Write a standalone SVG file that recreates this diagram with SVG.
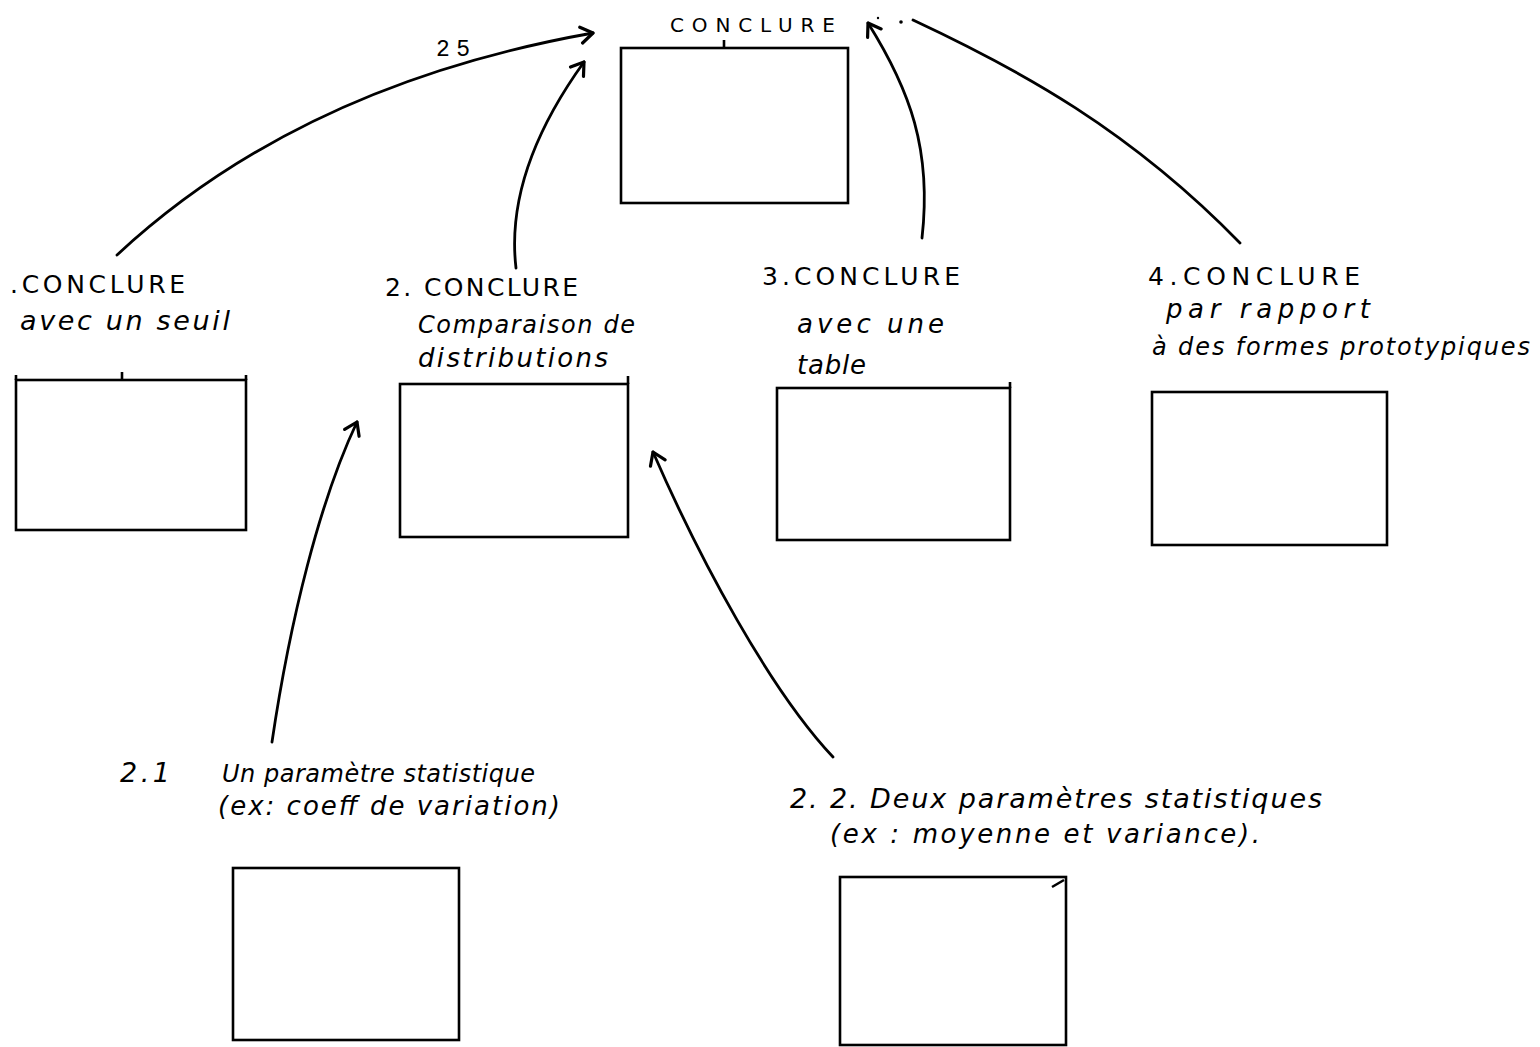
<svg xmlns="http://www.w3.org/2000/svg" width="1540" height="1047" viewBox="0 0 1540 1047">
  <defs>
    <marker id="open" viewBox="-14 -10 16 20" markerWidth="16" markerHeight="20" refX="0" refY="0" orient="auto" markerUnits="userSpaceOnUse">
      <polyline points="-12,-8 0,0 -12,8" fill="none" stroke="#000" stroke-width="3.2" stroke-linecap="round" stroke-linejoin="round"/>
    </marker>
    <style>
      .box { fill: #fff; stroke: #000; stroke-width: 2.6; }
      .tick { stroke: #000; stroke-width: 2.6; fill: none; }
      .edge { fill: none; stroke: #000; stroke-width: 2.8; stroke-linecap: round; }
      .cap { font-family: "DejaVu Sans", "Liberation Sans", sans-serif; font-size: 25px; fill: #000; }
      .hand { font-family: "DejaVu Sans", "Liberation Sans", sans-serif; font-style: italic; font-size: 26px; fill: #000; }
      .num { font-family: "Liberation Mono", monospace; font-size: 23px; fill: #000; }
      .small { font-size: 20px; }
      .s24 { font-size: 24px; }
      .s27 { font-size: 27px; }
    </style>
  </defs>
  <rect width="1540" height="1047" fill="#fff"/>

  <!-- connectors -->
  <g id="connectors">
    <path class="edge" d="M117,255 Q300,85 593,33" marker-end="url(#open)"/>
    <path class="edge" d="M516,268 C508,200 535,130 584,62" marker-end="url(#open)"/>
    <path class="edge" d="M922,238 C932,150 910,90 868,23" marker-end="url(#open)"/>
    <path class="edge" d="M1240,243 C1130,130 1020,70 913,20"/>
    <path class="edge" d="M272,742 C290,620 320,500 357,422" marker-end="url(#open)"/>
    <path class="edge" d="M833,757 C770,690 700,560 653,452" marker-end="url(#open)"/>
    <circle cx="901" cy="22" r="1.8" fill="#000"/>
    <circle cx="878" cy="18" r="1.2" fill="#000"/>
  </g>

  <!-- top node -->
  <g id="node-conclure">
    <text class="cap small" x="670" y="32" textLength="165" lengthAdjust="spacing">CONCLURE</text>
    <line class="tick" x1="724" y1="40" x2="724" y2="48"/>
    <rect class="box" x="621" y="48" width="227" height="155"/>
    <text class="num" x="436" y="56" textLength="34" lengthAdjust="spacing">25</text>
  </g>

  <!-- 1. seuil -->
  <g id="node-1">
    <text class="cap" x="10" y="293" textLength="175" lengthAdjust="spacing">.CONCLURE</text>
    <text class="hand s27" x="20" y="330" textLength="210" lengthAdjust="spacing">avec un seuil</text>
    <line class="tick" x1="122" y1="372" x2="122" y2="379"/>
    <line class="tick" x1="16" y1="375" x2="16" y2="380"/>
    <line class="tick" x1="246" y1="375" x2="246" y2="380"/>
    <rect class="box" x="16" y="380" width="230" height="150"/>
  </g>

  <!-- 2. distributions -->
  <g id="node-2">
    <text class="cap" x="385" y="296" textLength="193" lengthAdjust="spacing">2. CONCLURE</text>
    <text class="hand s24" x="418" y="333" textLength="217" lengthAdjust="spacing">Comparaison de</text>
    <text class="hand" x="418" y="367" textLength="190" lengthAdjust="spacing">distributions</text>
    <line class="tick" x1="628" y1="376" x2="628" y2="384"/>
    <rect class="box" x="400" y="384" width="228" height="153"/>
  </g>

  <!-- 3. table -->
  <g id="node-3">
    <text class="cap" x="762" y="285" textLength="198" lengthAdjust="spacing">3.CONCLURE</text>
    <text class="hand" x="797" y="333" textLength="147" lengthAdjust="spacing">avec une</text>
    <text class="hand" x="797" y="374" textLength="69" lengthAdjust="spacing">table</text>
    <line class="tick" x1="1010" y1="382" x2="1010" y2="388"/>
    <rect class="box" x="777" y="388" width="233" height="152"/>
  </g>

  <!-- 4. formes prototypiques -->
  <g id="node-4">
    <text class="cap" x="1148" y="285" textLength="212" lengthAdjust="spacing">4.CONCLURE</text>
    <text class="hand" x="1166" y="318" textLength="204" lengthAdjust="spacing">par rapport</text>
    <text class="hand s24" x="1152" y="355" textLength="378" lengthAdjust="spacing">à des formes prototypiques</text>
    <rect class="box" x="1152" y="392" width="235" height="153"/>
  </g>

  <!-- 2.1 -->
  <g id="node-2-1">
    <text class="hand s27" x="120" y="782" textLength="50" lengthAdjust="spacing">2.1</text>
    <text class="hand s24" x="222" y="782" textLength="313" lengthAdjust="spacing">Un paramètre statistique</text>
    <text class="hand" x="218" y="815" textLength="342" lengthAdjust="spacing">(ex: coeff de variation)</text>
    <rect class="box" x="233" y="868" width="226" height="172"/>
  </g>

  <!-- 2.2 -->
  <g id="node-2-2">
    <text class="hand s27" x="790" y="808" textLength="532" lengthAdjust="spacing">2. 2. Deux paramètres statistiques</text>
    <text class="hand" x="830" y="843" textLength="430" lengthAdjust="spacing">(ex : moyenne et variance).</text>
    <rect class="box" x="840" y="877" width="226" height="168"/>
    <path class="tick" d="M1064,880 L1052,887" stroke-width="2"/>
  </g>
</svg>
